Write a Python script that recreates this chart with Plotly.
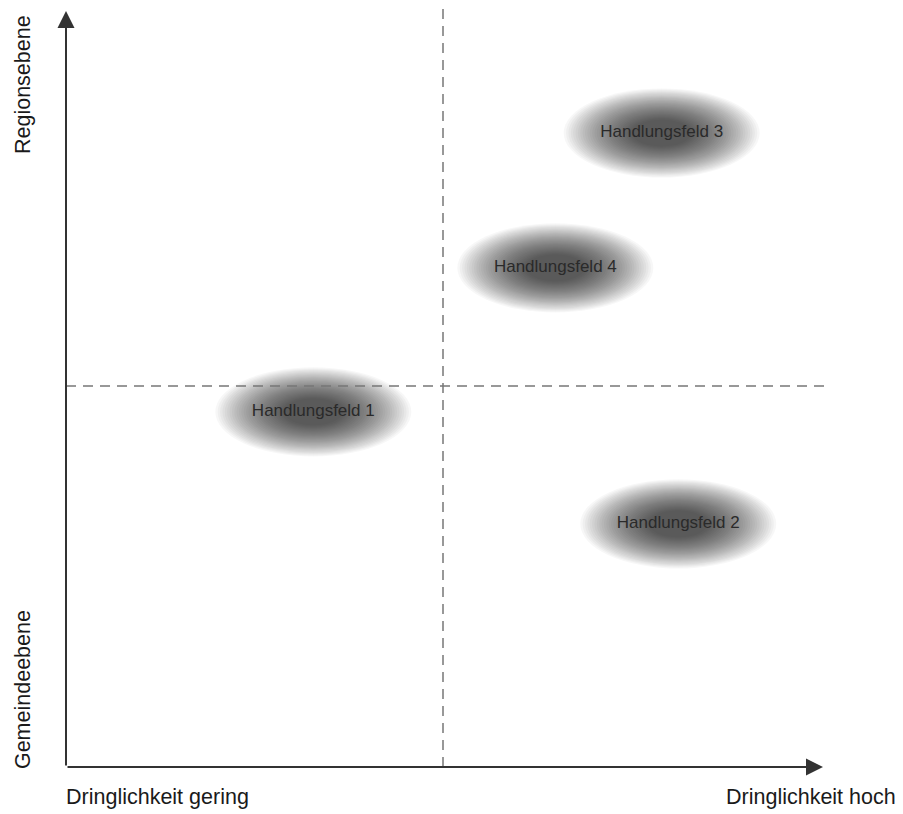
import plotly.graph_objects as go

# Data
field_names = ["Handlungsfeld 1", "Handlungsfeld 2", "Handlungsfeld 3", "Handlungsfeld 4"]
field_x = [3.28, 8.12, 7.90, 6.49]   # Dringlichkeit (0..10)
field_y = [4.66, 3.19, 8.32, 6.55]   # Ebene (0..10)
x_labels = ["Dringlichkeit gering", "Dringlichkeit hoch"]
y_labels = ["Gemeindeebene", "Regionsebene"]
mid_x = 5.0
mid_y = 5.0

RX, RY = 1.30, 0.585
FONT = "Liberation Sans, Arial, sans-serif"

fig = go.Figure()
shapes = []
annotations = []

# blurred ellipses: stacked translucent ellipses
n_layers = 30
for cx, cy in zip(field_x, field_y):
    for i in range(n_layers):
        s = 1.0 - 0.70 * i / (n_layers - 1)
        shapes.append(dict(type="circle", xref="x", yref="y",
                           x0=cx - RX * s, x1=cx + RX * s,
                           y0=cy - RY * s, y1=cy + RY * s,
                           fillcolor="rgba(0,0,0,0.033)", line=dict(width=0),
                           layer="below"))

# dashed quadrant lines
shapes.append(dict(type="line", xref="x", yref="y", x0=0, x1=10.07, y0=mid_y, y1=mid_y,
                   line=dict(color="#777777", width=1.5, dash="10px,7px"), layer="above"))
shapes.append(dict(type="line", xref="x", yref="y", x0=mid_x, x1=mid_x, y0=0, y1=10.0,
                   line=dict(color="#777777", width=1.5, dash="10px,7px"), layer="above"))

# axis arrows
annotations.append(dict(x=(823 - 66) / 75.4, y=0, ax=0, ay=0, xref="x", yref="y",
                        axref="x", ayref="y",
                        showarrow=True, arrowhead=2, arrowsize=1.7, arrowwidth=2,
                        arrowcolor="#333333", text=""))
annotations.append(dict(x=0, y=(767 - 11) / 76.2, ax=0, ay=0, xref="x", yref="y",
                        axref="x", ayref="y",
                        showarrow=True, arrowhead=2, arrowsize=1.7, arrowwidth=2,
                        arrowcolor="#333333", text=""))

# axis texts
lab_font = dict(family=FONT, size=21.5, color="#1a1a1a")
annotations.append(dict(x=-0.02, y=-0.40, xref="x", yref="y", text=x_labels[0], showarrow=False,
                        xanchor="left", yanchor="middle", font=lab_font))
annotations.append(dict(x=(898 - 66) / 75.4, y=-0.40, xref="x", yref="y", text=x_labels[1],
                        showarrow=False, xanchor="right", yanchor="middle", font=lab_font))
annotations.append(dict(x=-0.57, y=1.01, xref="x", yref="y", text=y_labels[0], showarrow=False,
                        textangle=-90, xanchor="center", yanchor="middle", font=lab_font))
annotations.append(dict(x=-0.57, y=8.95, xref="x", yref="y", text=y_labels[1], showarrow=False,
                        textangle=-90, xanchor="center", yanchor="middle", font=lab_font))

fig.add_trace(go.Scatter(x=field_x, y=field_y, mode="text", text=field_names,
                         textfont=dict(family=FONT, size=17, color="#2a2a2a"),
                         hoverinfo="skip", showlegend=False))

fig.update_layout(
    width=903, height=814,
    margin=dict(l=0, r=0, t=0, b=0),
    paper_bgcolor="white", plot_bgcolor="white",
    shapes=shapes, annotations=annotations,
    xaxis=dict(range=[-66 / 75.4, (903 - 66) / 75.4], visible=False, fixedrange=True),
    yaxis=dict(range=[-(814 - 767) / 76.2, 767 / 76.2], visible=False, fixedrange=True),
    showlegend=False,
)

fig.write_html("out.html", config={"displayModeBar": False},
               post_script="document.body.style.margin='0';document.body.style.overflow='hidden';")
